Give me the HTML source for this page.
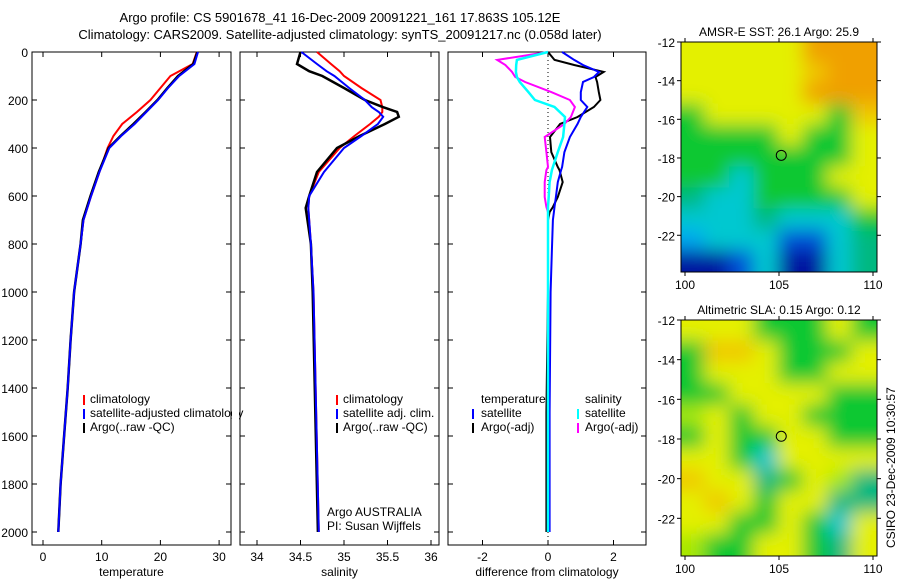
<!DOCTYPE html>
<html><head><meta charset="utf-8"><style>
body{margin:0;background:#fff}
svg{display:block;font-family:"Liberation Sans",sans-serif;font-size:12px}
</style></head><body>
<svg id="c" width="900" height="580" viewBox="0 0 900 580">
<defs>
<filter id="bl" x="-10%" y="-10%" width="120%" height="120%" filterUnits="objectBoundingBox"><feGaussianBlur stdDeviation="9"/></filter>
<clipPath id="cm1"><rect x="681" y="42" width="196" height="230"/></clipPath>
<clipPath id="cm2"><rect x="681" y="320" width="196" height="236"/></clipPath>
</defs>
<text x="340" y="22" text-anchor="middle" font-size="13">Argo profile: CS 5901678_41 16-Dec-2009 20091221_161 17.863S 105.12E</text>
<text x="340" y="39" text-anchor="middle" font-size="13">Climatology: CARS2009. Satellite-adjusted climatology: synTS_20091217.nc (0.058d later)</text>
<g id="g"></g>
</svg>
<script>
// ---- data ----
const tDepth=[0,50,100,150,200,250,300,350,400,500,600,700,800,1000,1200,1400,1600,1800,2000];
const tClim=[26.2,25.5,21.7,20.0,18.3,16.0,13.5,12.0,11,9.6,8.2,6.9,6.4,5.3,4.7,4.2,3.6,3.0,2.6];
const tSat=[26.4,25.8,23.2,21.3,19.6,17.6,15.6,13.3,11.3,9.6,8.2,6.9,6.4,5.3,4.7,4.2,3.6,3.0,2.6];
const tArgo=[26.3,25.6,23,21.2,19.5,17.5,15.4,13.2,11.2,9.5,8.1,6.8,6.4,5.3,4.7,4.2,3.6,3.0,2.6];
const sDepth=[0,50,80,100,150,200,230,250,270,300,350,400,500,600,650,800,1000,2000];
const sClim=[34.69,34.85,34.95,35.0,35.2,35.42,35.44,35.44,35.4,35.3,35.12,34.95,34.71,34.6,34.59,34.62,34.65,34.71];
const sSat=[34.51,34.69,34.8,34.89,35.06,35.24,35.32,35.4,35.45,35.39,35.2,35.0,34.77,34.6,34.59,34.62,34.65,34.71];
const sArgo=[34.5,34.46,34.6,34.75,35.0,35.24,35.45,35.61,35.63,35.47,35.18,34.92,34.69,34.6,34.56,34.62,34.64,34.7];
const dDepth=[0,33,54,83,104,125,167,200,229,271,300,354,417,479,492,542,604,646,667,700,825,1000,1500,2000];
const dTSat=[0.43,0.8,1.07,1.56,1.4,1.07,1.0,1.0,1.2,1.0,0.9,0.67,0.5,0.43,0.4,0.3,0.24,0.2,0.18,0.15,0.12,0.08,0.05,0.05];
const dTArgo=[0,0.2,0.8,1.7,1.45,1.5,1.55,1.6,1.4,0.9,0.37,0.06,0.1,0.3,0.35,0.45,0.3,0.15,0.05,0.0,0.0,0.0,-0.05,-0.05];
const dSSat=[0,-0.95,-0.97,-0.98,-0.95,-0.86,-0.6,-0.4,0.2,0.52,0.5,0.46,0.3,0.15,0.12,0.05,0.02,0.0,0.0,0.0,0.0,0.0,0.0,0.0];
const dSArgo=[0,-1.55,-1.3,-1.1,-1.0,-0.7,0.1,0.67,0.82,0.7,0.5,-0.1,-0.05,0.0,-0.05,-0.1,-0.1,-0.05,0,0,0,0,0,0];
const depthTicks=[0,200,400,600,800,1000,1200,1400,1600,1800,2000];
const tTicks=[0,10,20,30], sTicks=[34,34.5,35,35.5,36], dTicks=[-2,0,2];
const map1=["YYYYYOOO","YYYYYAOO","YYYYYOOO","GYYYYYGA","GGGGYGGY","GGGGGGGY","GGCGGGYY","TCCGGGGY","CCCTCCCG","LCCCBBCT","DDBCDDCT"];
const map2=["YYYGGGYG","GAAYGGGY","GYYYGGYY","GGYYYYGG","WYGYYGGG","GYGGYYGG","YYGCYYYY","AYYTGYWT","YAYGYYTT","YYGGYGCY","WGGYYGTY"];
const pal={Y:"#e4f000",O:"#f0a000",A:"#f0c800",G:"#10c830",T:"#00b880",C:"#00c8d0",L:"#00a8f0",B:"#0050d8",D:"#0018a0",W:"#a8e800"};

const NS="http://www.w3.org/2000/svg", G=document.getElementById('g');
function el(t,a,p){const e=document.createElementNS(NS,t);for(const k in a)e.setAttribute(k,a[k]);(p||G).appendChild(e);return e;}
const Y0=52,Y1=545, yD=d=>Y0+d*0.24;
function panel(name,x0,x1,xs,ticks,fmt,label,leftLabels){
  const r=el('rect',{x:x0,y:Y0,width:x1-x0,height:Y1-Y0,fill:'none',stroke:'#000','stroke-width':1});
  
  depthTicks.forEach(d=>{const y=yD(d);
    el('line',{x1:x0,x2:x0+5,y1:y,y2:y,stroke:'#000'});el('line',{x1:x1-5,x2:x1,y1:y,y2:y,stroke:'#000'});
    if(leftLabels){const t=el('text',{x:x0-4,y:y+5,'text-anchor':'end'});t.textContent=d;
      }
  });
  ticks.forEach(v=>{const x=xs(v);
    el('line',{x1:x,x2:x,y1:Y0,y2:Y0+5,stroke:'#000'});el('line',{x1:x,x2:x,y1:Y1-5,y2:Y1,stroke:'#000'});
    const t=el('text',{x:x,y:Y1+16,'text-anchor':'middle'});t.textContent=fmt(v);
    });
  const t=el('text',{x:(x0+x1)/2,y:576,'text-anchor':'middle'});t.textContent=label;
  
}
function line(name,depths,vals,xs,col,w){
  const p=el('polyline',{points:depths.map((d,i)=>xs(vals[i]).toFixed(1)+','+yD(d).toFixed(1)).join(' '),fill:'none',stroke:col,'stroke-width':w});
  
}
function txt(name,x,y,s,extra){const t=el('text',Object.assign({x:x,y:y},extra||{}));t.textContent=s;
  return t;}
function lbar(x,y,col){el('line',{x1:x,x2:x,y1:y-10,y2:y,stroke:col,'stroke-width':2});}

// panel 1
const xT=v=>43+5.87*v;
panel('temperature-panel',32,231,xT,tTicks,v=>v,'temperature',true);
line('temp-climatology-line',tDepth,tClim,xT,'#f00',2);
line('temp-argo-line',tDepth,tArgo,xT,'#000',2.5);
line('temp-satellite-line',tDepth,tSat,xT,'#00f',2);
lbar(84,405,'#f00');txt('legend-climatology',90,403,'climatology');
lbar(84,419,'#00f');txt('legend-satellite-adjusted',90,417,'satellite-adjusted climatology');
lbar(84,433,'#000');txt('legend-argo',90,431,'Argo(..raw -QC)');
el('rect',{x:232,y:385,width:7,height:60,fill:'#fff'});

// panel 2
const xS=v=>257+87*(v-34);
panel('salinity-panel',240,439,xS,sTicks,v=>v,'salinity',false);
line('sal-climatology-line',sDepth,sClim,xS,'#f00',2);
line('sal-argo-line',sDepth,sArgo,xS,'#000',2.5);
line('sal-satellite-line',sDepth,sSat,xS,'#00f',2);
lbar(337,405,'#f00');txt('legend-climatology-2',343,403,'climatology');
lbar(337,419,'#00f');txt('legend-satellite-2',343,417,'satellite adj. clim.');
lbar(337,433,'#000');txt('legend-argo-2',343,431,'Argo(..raw -QC)');
txt('argo-australia-label',327,516,'Argo AUSTRALIA');
txt('pi-label',327,530,'PI: Susan Wijffels');

// panel 3
const xDf=v=>548+32.75*v;
panel('difference-panel',448,646,xDf,dTicks,v=>v,'difference from climatology',false);
el('line',{x1:548,x2:548,y1:Y0,y2:Y1,stroke:'#000','stroke-dasharray':'1,3'});
line('diff-temp-argo-line',dDepth,dTArgo,xDf,'#000',2);
line('diff-temp-satellite-line',dDepth,dTSat,xDf,'#00f',2);
line('diff-sal-argo-line',dDepth,dSArgo,xDf,'#f0f',2);
line('diff-sal-satellite-line',dDepth,dSSat,xDf,'#0ff',2.5);
txt('legend-temperature-header',481,403,'temperature');txt('legend-salinity-header',585,403,'salinity');
lbar(473,419,'#00f');txt('legend-temp-satellite',481,417,'satellite');
lbar(578,419,'#0ff');txt('legend-sal-satellite',585,417,'satellite');
lbar(473,433,'#000');txt('legend-temp-argo',481,431,'Argo(-adj)');
lbar(578,433,'#f0f');txt('legend-sal-argo',585,431,'Argo(-adj)');

// maps
function map(name,grid,y0,h,clip,title){
  txt(name+'-title',779,y0-6,title,{'text-anchor':'middle'});
  const g=el('g',{'clip-path':'url(#'+clip+')'});
  const g2=el('g',{filter:'url(#bl)'},g);
  const rows=grid.length,cols=grid[0].length,cw=196/cols,ch=h/rows;
  for(let r=0;r<rows;r++)for(let c=0;c<cols;c++){
    const x=681+c*cw-1-(c==0?20:0), y=y0+r*ch-1-(r==0?20:0);
    const w=cw+2+(c==0?20:0)+(c==cols-1?20:0), hh=ch+2+(r==0?20:0)+(r==rows-1?20:0);
    el('rect',{x:x,y:y,width:w,height:hh,fill:pal[grid[r][c]]},g2);}
  el('rect',{x:681,y:y0,width:196,height:h,fill:'none',stroke:'#000'});
  const yl=lat=>y0+(-12-lat)/(-12+23.9)*h;
  [-12,-14,-16,-18,-20,-22].forEach(l=>{const y=yl(l);
    el('line',{x1:677,x2:681,y1:y,y2:y,stroke:'#000'});el('line',{x1:877,x2:881,y1:y,y2:y,stroke:'#000'});
    txt(name+'-lat-label',675,y+5,l,{'text-anchor':'end'});});
  [100,105,110].forEach(lo=>{const x=685+(lo-100)*18.8;
    el('line',{x1:x,x2:x,y1:y0-4,y2:y0,stroke:'#000'});el('line',{x1:x,x2:x,y1:y0+h,y2:y0+h+4,stroke:'#000'});
    txt(name+'-lon-label',x,y0+h+17,lo,{'text-anchor':'middle'});});
  const c=el('circle',{cx:685+5.12*18.8,cy:yl(-17.863),r:5,fill:'none',stroke:'#000'});
  
}
map('sst-map',map1,42,230,'cm1','AMSR-E SST: 26.1 Argo: 25.9');
map('sla-map',map2,320,236,'cm2','Altimetric SLA: 0.15 Argo: 0.12');
txt('csiro-footer',0,0,'CSIRO 23-Dec-2009 10:30:57',{transform:'translate(895,548) rotate(-90)'});
</script>
</body></html>
